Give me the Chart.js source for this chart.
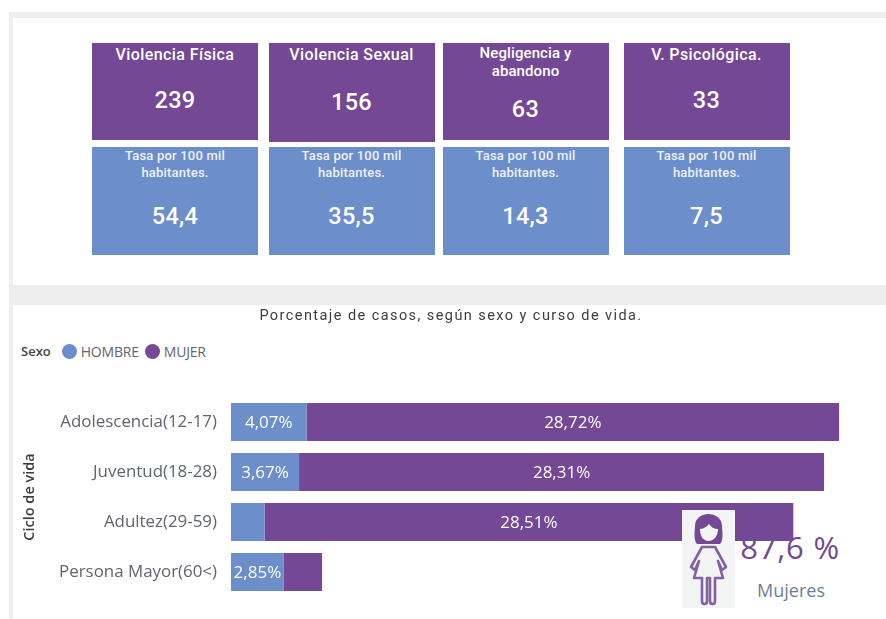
<!DOCTYPE html>
<html lang="es">
<head>
<meta charset="utf-8">
<style>
html,body{margin:0;padding:0;background:#fff;}
#page{position:relative;width:886px;height:619px;overflow:hidden;background:#fff;font-family:"Open Sans",sans-serif;}
.abs{position:absolute;}
.card{position:absolute;color:#fff;text-align:center;font-family:Roboto,sans-serif;box-sizing:border-box;}
.card div{position:absolute;left:0;right:0;transform:translateY(-50%);}
.purple{background:#744894;}
.blue{background:#6c8ecb;}
.ttl{font-size:16px;font-weight:500;letter-spacing:.4px;line-height:17px;}
.ttl.two{font-size:15px;letter-spacing:.1px;line-height:18px;}
.num{font-size:23.5px;font-weight:500;letter-spacing:.3px;}
.sub{font-size:13px;font-weight:500;letter-spacing:.2px;line-height:16.5px;color:#eef2fa;}
#title{position:absolute;left:201px;width:500px;top:306px;height:20px;line-height:20px;text-align:center;font-family:Roboto,sans-serif;font-size:14.5px;letter-spacing:1.43px;color:#3d3d3d;z-index:3;}
#legend{position:absolute;left:21px;top:342px;height:18px;display:flex;align-items:center;font-size:14px;color:#5f6470;letter-spacing:-.2px;}
#legend b{color:#444;font-weight:600;font-size:13px;margin-right:11px;letter-spacing:0;}
#legend i{display:inline-block;width:15px;height:15px;border-radius:50%;margin-right:4px;}
#legend span{margin-right:6px;}
#chartBox{position:absolute;left:0;top:305px;width:886px;height:314px;z-index:1;}
#pct{position:absolute;left:735px;width:110px;top:527px;text-align:center;font-size:31px;line-height:40px;color:#744894;letter-spacing:.8px;z-index:0;}
#who{position:absolute;left:736px;width:110px;top:578px;text-align:center;font-size:18px;line-height:24px;color:#6b7f96;z-index:0;}
#icon{position:absolute;left:682px;top:510px;width:53px;height:98px;z-index:2;background:#f3f4f4;}
</style>
</head>
<body>
<div id="page">
  <div class="abs" style="left:9px;top:12px;width:877px;height:607px;background:#eeeeee"></div>
  <div class="abs" style="left:13px;top:18px;width:873px;height:267px;background:#fff"></div>
  <div class="abs" style="left:13px;top:305px;width:873px;height:314px;background:#fff"></div>
  <div id="cards"></div>
  <div id="title"></div>
  <div id="pct"></div>
  <div id="who"></div>
  <div id="chartBox"><canvas id="chart" width="886" height="314"></canvas></div>
  <div id="legend"></div>
  <svg id="icon" viewBox="0 0 53 98" aria-hidden="true">
    <path d="M15 34 C11 30 13 20 13 16 C13 8 20 4 26.5 4 C33 4 40 8 40 16 C40 20 42 30 38 34 Z" fill="#744894"/>
    <path d="M18 19 C22 19 25 16 27 14 C29 17 32 19 36 19 C36 26 32 31 26.5 31 C21 31 18 26 18 19 Z" fill="#f3f4f4"/>
    <path d="M20 37 L33 37 L44 57 L40 60 L36 51 L41 68 L33 68 L33 91 C33 95 28 95 28 91 L28 68 L25 68 L25 91 C25 95 20 95 20 91 L20 68 L12 68 L17 51 L13 60 L9 57 Z" fill="#f3f4f4" stroke="#8560a2" stroke-width="2.6" stroke-linejoin="round"/>
  </svg>
</div>
<script src="https://cdn.jsdelivr.net/npm/chart.js@4/dist/chart.umd.min.js"></script>
<script>
const cardTitles = [["Violencia Física"], ["Violencia Sexual"], ["Negligencia y", "abandono"], ["V. Psicológica."]];
const cardCounts = ["239", "156", "63", "33"];
const cardRateLabel = ["Tasa por 100 mil", "habitantes."];
const cardRates = ["54,4", "35,5", "14,3", "7,5"];

const chartTitle = "Porcentaje de casos, según sexo y curso de vida.";
const legendTitle = "Sexo";
const axisTitle = "Ciclo de vida";
const categories = ["Adolescencia(12-17)", "Juventud(18-28)", "Adultez(29-59)", "Persona Mayor(60<)"];
const hombre = [4.07, 3.67, 1.81, 2.85];
const mujer = [28.72, 28.31, 28.51, 2.06];
const kpiValue = "87,6 %";
const kpiLabel = "Mujeres";

const PURPLE = "#744894", BLUE = "#6c8ecb";

// Card placement on the page
const cardX = [92, 268.5, 442.5, 623.5];
const cardH = [97, 98.5, 97, 97];
const countY = [57, 59, 66, 57];
const cardsEl = document.getElementById("cards");
function add(parent, cls, text, top) {
  const d = document.createElement("div");
  d.className = cls; d.style.top = top + "px";
  d.innerHTML = text; parent.appendChild(d);
}
cardTitles.forEach((t, i) => {
  const a = document.createElement("div");
  a.className = "card purple";
  a.style.cssText = `left:${cardX[i]}px;top:43px;width:166px;height:${cardH[i]}px`;
  if (t.length > 1) add(a, "ttl two", t.join("<br>"), 19);
  else add(a, "ttl", t[0], 10.5);
  add(a, "num", cardCounts[i], countY[i]);
  cardsEl.appendChild(a);
  const b = document.createElement("div");
  b.className = "card blue";
  b.style.cssText = `left:${cardX[i]}px;top:147px;width:166px;height:108px`;
  add(b, "sub", cardRateLabel.join("<br>"), 17);
  add(b, "num", cardRates[i], 69);
  cardsEl.appendChild(b);
});
document.getElementById("title").textContent = chartTitle;
document.getElementById("pct").textContent = kpiValue;
document.getElementById("who").textContent = kpiLabel;

const leg = document.getElementById("legend");
leg.innerHTML = `<b>${legendTitle}</b>` +
  `<i style="background:${BLUE}"></i><span>HOMBRE</span>` +
  `<i style="background:${PURPLE}"></i><span>MUJER</span>`;

const fmt = v => v.toFixed(2).replace(".", ",") + "%";
const barLabels = {
  id: "barLabels",
  afterDatasetsDraw(chart) {
    const c = chart.ctx;
    c.save();
    c.font = '17px "Open Sans", sans-serif';
    c.fillStyle = "#ffffff";
    c.textAlign = "center";
    c.textBaseline = "middle";
    chart.data.datasets.forEach((ds, di) => {
      chart.getDatasetMeta(di).data.forEach((bar, i) => {
        const s = fmt(ds.data[i]);
        const w = Math.abs(bar.x - bar.base);
        if (c.measureText(s).width + 2 <= w) c.fillText(s, (bar.x + bar.base) / 2, bar.y + 1);
      });
    });
    c.restore();
  }
};

new Chart(document.getElementById("chart"), {
  type: "bar",
  data: {
    labels: categories,
    datasets: [
      { label: "HOMBRE", data: hombre, backgroundColor: BLUE, barPercentage: 0.76, categoryPercentage: 1 },
      { label: "MUJER", data: mujer, backgroundColor: PURPLE, barPercentage: 0.76, categoryPercentage: 1 }
    ]
  },
  options: {
    indexAxis: "y",
    responsive: false,
    animation: false,
    layout: { padding: { left: 14, right: 43, top: 92, bottom: 22 } },
    plugins: {
      legend: { display: false },
      tooltip: { enabled: false },
      title: { display: false }
    },
    scales: {
      x: { stacked: true, display: false, min: 0, max: 33, grid: { display: false } },
      y: {
        stacked: true,
        grid: { display: false },
        border: { display: false },
        afterFit(s) { s.width = 217; },
        ticks: { color: "#5f6470", padding: 6, font: { family: '"Open Sans", sans-serif', size: 16.9 } },
        title: { display: true, text: axisTitle, color: "#3d3d3d", padding: { top: 7, bottom: 0 },
                 font: { family: '"Open Sans", sans-serif', size: 14.5, weight: "600" } }
      }
    }
  },
  plugins: [barLabels]
});
</script>
</body>
</html>
